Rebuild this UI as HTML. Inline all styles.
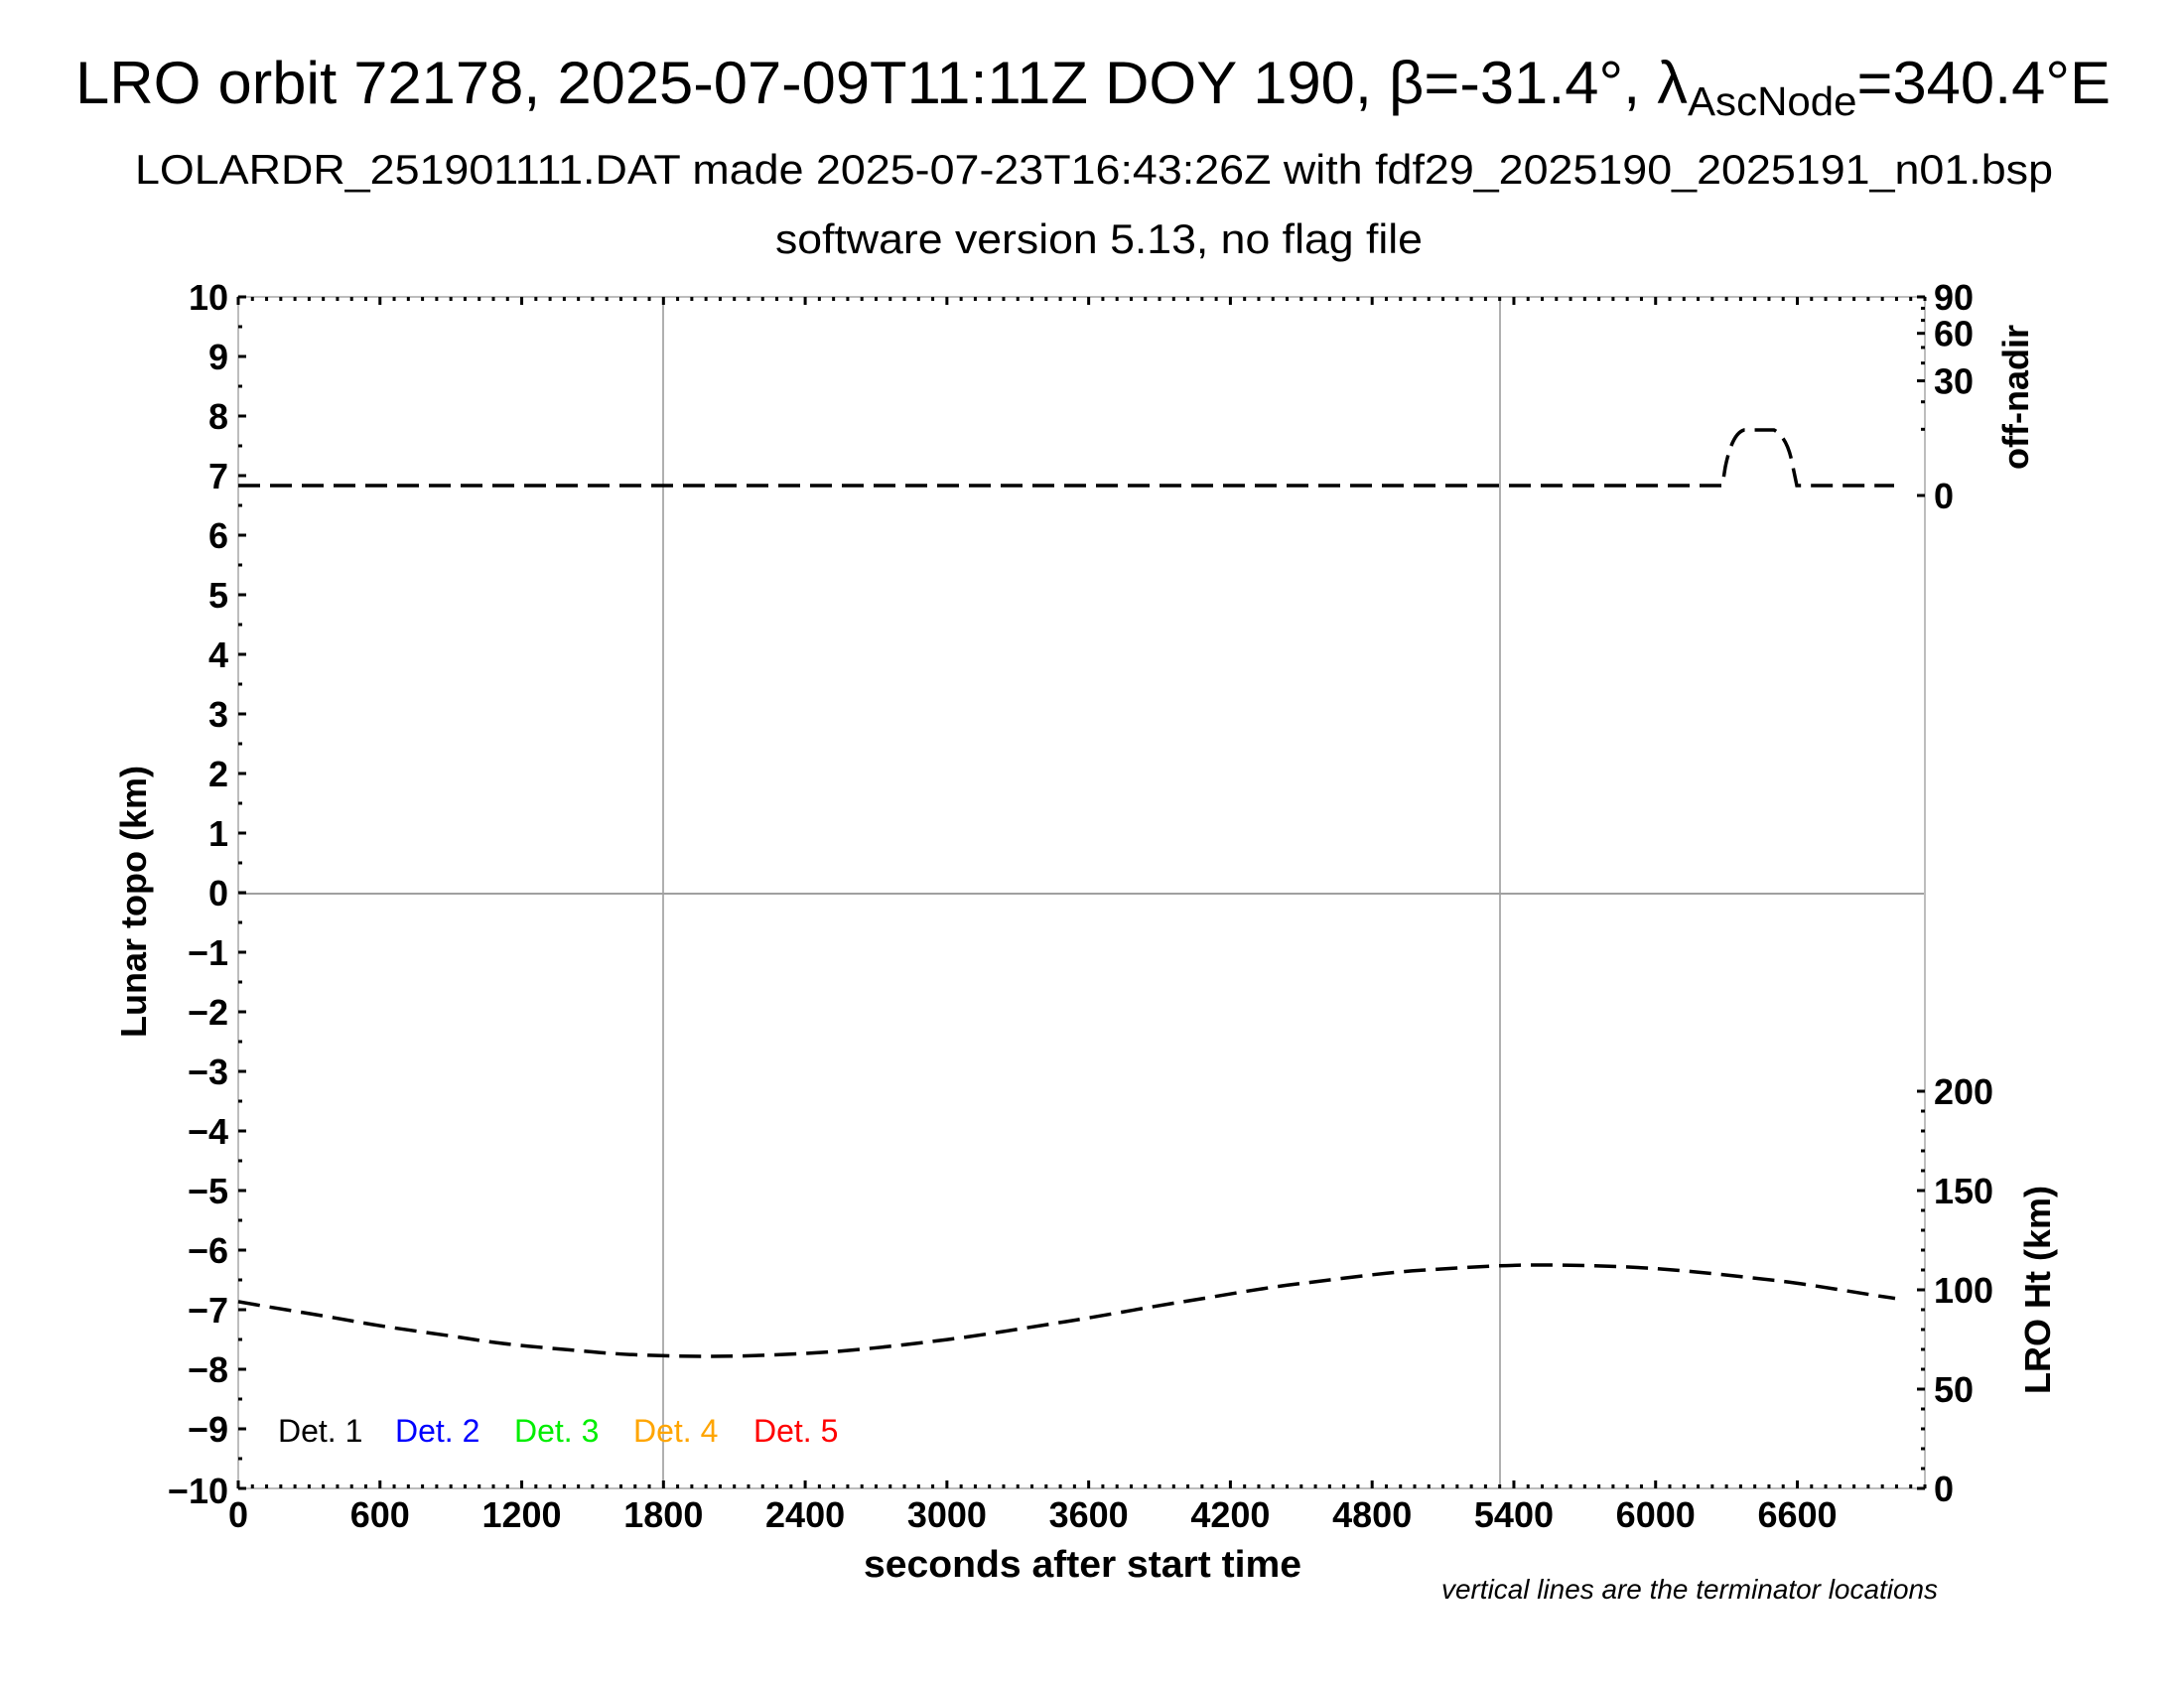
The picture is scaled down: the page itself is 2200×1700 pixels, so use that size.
<!DOCTYPE html>
<html><head><meta charset="utf-8"><style>
html,body{margin:0;padding:0;background:#fff;}
svg{display:block;font-family:"Liberation Sans",Arial,sans-serif;}
.tl{font-weight:bold;font-size:36px;fill:#000;}
</style></head><body>
<svg width="2200" height="1700" viewBox="0 0 2200 1700" xmlns="http://www.w3.org/2000/svg">
<rect width="2200" height="1700" fill="#fff"/>
<!-- titles -->
<text x="76" y="104" font-size="60" textLength="2050" lengthAdjust="spacingAndGlyphs">LRO orbit 72178, 2025-07-09T11:11Z DOY 190, β=-31.4°, λ<tspan font-size="41" dy="12">AscNode</tspan><tspan dy="-12">=340.4°E</tspan></text>
<text x="136" y="185" font-size="42" textLength="1932" lengthAdjust="spacingAndGlyphs">LOLARDR_251901111.DAT made 2025-07-23T16:43:26Z with fdf29_2025190_2025191_n01.bsp</text>
<text x="781" y="255" font-size="42" textLength="652" lengthAdjust="spacingAndGlyphs">software version 5.13, no flag file</text>

<!-- grid lines -->
<line x1="668" y1="299" x2="668" y2="1499" stroke="#b0b0b0" stroke-width="2"/>
<line x1="1511" y1="299" x2="1511" y2="1499" stroke="#b0b0b0" stroke-width="2"/>
<line x1="240" y1="900" x2="1939" y2="900" stroke="#a0a0a0" stroke-width="2"/>
<!-- axes frame -->
<rect x="240" y="299" width="1699" height="1200" fill="none" stroke="#bdbdbd" stroke-width="2"/>

<g id="ticks" stroke="#000" stroke-width="3"></g>
<g id="labels"></g>

<!-- legend -->
<g font-size="32">
<text x="280" y="1452" fill="#000">Det. 1</text>
<text x="398" y="1452" fill="#0000ff">Det. 2</text>
<text x="518" y="1452" fill="#00ee00">Det. 3</text>
<text x="638" y="1452" fill="#ffa500">Det. 4</text>
<text x="759" y="1452" fill="#ff0000">Det. 5</text>
</g>

<!-- series -->
<path d="M240,489 L1735,489 L1738,470 Q1745,436 1757,433 L1787,433 Q1800,440 1805,465 L1810,489 L1908,489" fill="none" stroke="#000" stroke-width="3.5" stroke-dasharray="22,10"/>
<path d="M240,1310.9 C280,1318 320,1324 359,1331.1 S440,1343 478,1349.1 S560,1358 597,1361.5 S680,1366 716,1366 S800,1364 835,1361.6 S915,1354 954,1349.1 S1035,1337 1073,1331.1 S1153,1317 1192,1310.9 S1272,1297 1311,1292.5 S1390,1282 1430,1279.4 S1510,1274 1549,1274 S1630,1275 1668,1277.6 S1748,1285 1787,1289.4 S1870,1302 1909,1307.6" fill="none" stroke="#000" stroke-width="3.5" stroke-dasharray="22,10"/>

<!-- axis titles -->
<text x="870" y="1588" font-size="38" font-weight="bold" textLength="441" lengthAdjust="spacingAndGlyphs">seconds after start time</text>
<text transform="translate(147,908) rotate(-90)" text-anchor="middle" font-size="36" font-weight="bold">Lunar topo (km)</text>
<text transform="translate(2043,400) rotate(-90)" text-anchor="middle" font-size="36" font-weight="bold">off-nadir</text>
<text transform="translate(2065,1299) rotate(-90)" text-anchor="middle" font-size="36" font-weight="bold">LRO Ht (km)</text>
<text x="1452" y="1626" font-size="28" font-style="italic" textLength="500" lengthAdjust="spacingAndGlyphs" transform="translate(0,-16)">vertical lines are the terminator locations</text>
</svg>
<script>
(function(){
var NS="http://www.w3.org/2000/svg";
var tg=document.getElementById("ticks"), lg=document.getElementById("labels");
function L(x1,y1,x2,y2){var e=document.createElementNS(NS,"line");e.setAttribute("x1",x1);e.setAttribute("y1",y1);e.setAttribute("x2",x2);e.setAttribute("y2",y2);tg.appendChild(e);}
function T(x,y,s,a){var e=document.createElementNS(NS,"text");e.setAttribute("x",x);e.setAttribute("y",y);e.setAttribute("class","tl");e.setAttribute("text-anchor",a);e.textContent=s;lg.appendChild(e);}
var k=1699/7140;
for(var t=0;t<=7140;t+=60){var x=240+t*k;var maj=(t%600===0);L(x,1499,x,1499-(maj?8:4));L(x,299,x,299+(maj?8:4));}
for(var t=0;t<=6600;t+=600){T(240+t*k,1538,String(t),"middle");}
for(var v=-10;v<=10;v+=0.5){var y=299+60*(10-v);var maj=(v%1===0);L(240,y,240+(maj?8:4),y);}
for(var v=10;v>=-10;v--){var y=299+60*(10-v);T(230,y+13+(v==-10?2:0),(v<0?"\u2212":"")+Math.abs(v),"end");}
for(var a=0;a<=90;a+=10){var y=499-200*Math.sqrt(a/90);var maj=(a%30===0);L(1939,y,1939-(maj?8:4),y);}
[90,60,30,0].forEach(function(a){var y=499-200*Math.sqrt(a/90);T(1948,y+13,String(a),"start");});
for(var h=0;h<=200;h+=10){var y=1499-2*h;var maj=(h%50===0);L(1939,y,1939-(maj?8:4),y);}
for(var h=0;h<=200;h+=50){T(1948,1499-2*h+13,String(h),"start");}
})();
</script>
</body></html>
